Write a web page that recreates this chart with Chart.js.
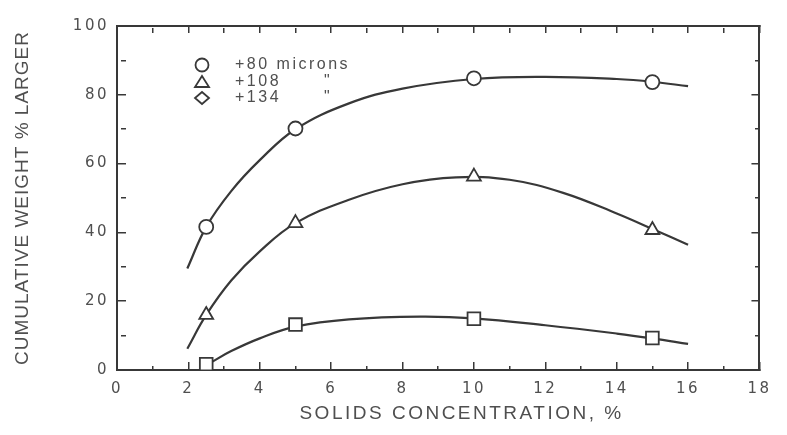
<!DOCTYPE html>
<html>
<head>
<meta charset="utf-8">
<script src="https://cdn.jsdelivr.net/npm/chart.js@4.4.1/dist/chart.umd.min.js"></script>
<style>
  html, body { margin: 0; padding: 0; background: #fff; }
</style>
</head>
<body>
<canvas id="chart" width="787" height="435"></canvas>
<script>
// plotted points (solids concentration, %)
const concentrations = [2.5, 5, 10, 15];
const plus80 = [41.6, 70.2, 84.8, 83.7];
const plus108 = [16.0, 42.7, 56.2, 40.7];
const plus134 = [1.7, 13.2, 14.9, 9.3];

// the smooth hand-drawn curves
const curve80X = [1.97, 2.5, 3.2, 4, 5, 6.5, 8, 10, 12, 14, 15, 16];
const curve80Y = [29.5, 41.6, 52, 61, 70, 77.5, 81.8, 84.6, 85.2, 84.6, 83.8, 82.5];
const curve108X = [1.97, 2.5, 3.2, 4, 5, 6.5, 8, 9.5, 11, 12.5, 14, 15, 16];
const curve108Y = [6.2, 16, 26, 34.5, 42.7, 49.5, 54, 56, 55.3, 51.5, 45.5, 41, 36.4];
const curve134X = [2.6, 3.2, 4, 5, 6.5, 8.5, 10, 12, 14, 15, 16];
const curve134Y = [2, 5.5, 9.2, 12.6, 14.7, 15.5, 15, 13, 10.6, 9.2, 7.6];

const legendLabels = ['+80 microns', '+108', '+134'];
const legendDitto = ['', '"', '"'];
const legendShapes = ['circle', 'triangle', 'diamond'];

// the printed title sits a little right of the axis centre
const xTitle = '      SOLIDS CONCENTRATION, %';
const yTitle = 'CUMULATIVE WEIGHT % LARGER';

const ink = '#383838';
const textGray = '#4f4f4f';

const pts = (xs, ys) => xs.map((x, i) => ({ x: x, y: ys[i] }));

function markers(ys, style, radius) {
  return {
    data: pts(concentrations, ys),
    showLine: false,
    pointStyle: style,
    pointRadius: radius,
    pointBorderWidth: 1.8,
    pointBorderColor: ink,
    pointBackgroundColor: '#fff',
    order: 0
  };
}

function curve(xs, ys) {
  return {
    data: pts(xs, ys),
    showLine: true,
    pointRadius: 0,
    borderColor: ink,
    borderWidth: 2.2,
    tension: 0.4,
    order: 1
  };
}

// short ticks on the minor steps
const minorDash = step => c => (c.tick && c.tick.value % step !== 0) ? [5, 60] : [];

function tickGrid(len, step) {
  return {
    drawOnChartArea: false,
    drawTicks: true,
    tickLength: -len,   // inward ticks
    color: ink,
    lineWidth: 1.5,
    tickBorderDash: minorDash(step)
  };
}

const border = { display: true, color: ink, width: 2 };

// spacing the letters a bit like the old lettering
function spacingFor(text) {
  if (text === yTitle) return '1px';
  return '2.5px';
}

const spacingPlugin = {
  id: 'spacing',
  beforeDraw(chart) {
    const ctx = chart.ctx;
    if (ctx._spaced) return;
    const fill = ctx.fillText;
    ctx.fillText = function (text, x, y, w) {
      this.letterSpacing = spacingFor(String(text));
      return w === undefined ? fill.call(this, text, x, y) : fill.call(this, text, x, y, w);
    };
    ctx._spaced = true;
  }
};

const legendPlugin = {
  id: 'innerLegend',
  afterDraw(chart) {
    const ctx = chart.ctx;
    const area = chart.chartArea;
    const mx = area.left + 85;
    const tx = area.left + 118;
    const dx = area.left + 207;
    const rows = [area.top + 39, area.top + 56, area.top + 72];
    ctx.save();
    ctx.strokeStyle = ink;
    ctx.lineWidth = 1.8;
    ctx.fillStyle = textGray;
    ctx.font = '16px "Liberation Sans", Arial, sans-serif';
    ctx.textBaseline = 'middle';
    legendLabels.forEach((label, i) => {
      const y = rows[i];
      ctx.beginPath();
      if (legendShapes[i] === 'circle') {
        ctx.arc(mx, y, 6.5, 0, Math.PI * 2);
      } else if (legendShapes[i] === 'triangle') {
        ctx.moveTo(mx, y - 6);
        ctx.lineTo(mx + 7, y + 5);
        ctx.lineTo(mx - 7, y + 5);
        ctx.closePath();
      } else {
        ctx.moveTo(mx, y - 6);
        ctx.lineTo(mx + 7, y);
        ctx.lineTo(mx, y + 6);
        ctx.lineTo(mx - 7, y);
        ctx.closePath();
      }
      ctx.stroke();
      ctx.textAlign = 'left';
      ctx.fillText(label, tx, y);
      if (legendDitto[i]) ctx.fillText(legendDitto[i], dx, y);
    });
    ctx.restore();
  }
};

new Chart(document.getElementById('chart'), {
  type: 'scatter',
  data: {
    datasets: [
      markers(plus80, 'circle', 7),
      markers(plus108, 'triangle', 8),
      markers(plus134, 'rect', 9),
      curve(curve80X, curve80Y),
      curve(curve108X, curve108Y),
      curve(curve134X, curve134Y)
    ]
  },
  options: {
    responsive: false,
    animation: false,
    devicePixelRatio: 1,
    layout: { padding: 0 },
    plugins: {
      legend: { display: false },
      tooltip: { enabled: false }
    },
    scales: {
      x: {
        type: 'linear',
        position: 'bottom',
        min: 0,
        max: 18,
        grid: tickGrid(8, 2),
        border: border,
        ticks: {
          stepSize: 1,
          autoSkip: false,
          maxRotation: 0,
          minRotation: 0,
          padding: 18,
          color: textGray,
          font: { family: 'DejaVu Sans', size: 15 },
          callback: v => (v % 2 === 0 ? v : '')
        },
        title: {
          display: true,
          text: xTitle,
          color: textGray,
          font: { family: 'Liberation Sans', size: 19 },
          padding: { top: 0, bottom: 10 }
        },
        afterFit: s => { s.height = 65; }
      },
      xTop: {
        type: 'linear',
        position: 'top',
        min: 0,
        max: 18,
        grid: tickGrid(7, 2),
        border: border,
        ticks: { stepSize: 1, autoSkip: false, display: false },
        afterFit: s => { s.height = 14; }
      },
      y: {
        type: 'linear',
        position: 'left',
        min: 0,
        max: 100,
        grid: tickGrid(9, 20),
        border: border,
        ticks: {
          stepSize: 10,
          autoSkip: false,
          padding: 17,
          color: textGray,
          font: { family: 'DejaVu Sans', size: 15 },
          callback: v => (v % 20 === 0 ? v : '')
        },
        title: {
          display: true,
          text: yTitle,
          color: textGray,
          font: { family: 'Liberation Sans', size: 19 },
          padding: { top: 11, bottom: 0 }
        },
        afterFit: s => { s.width = 117; }
      },
      yRight: {
        type: 'linear',
        position: 'right',
        min: 0,
        max: 100,
        grid: tickGrid(8, 20),
        border: border,
        ticks: { stepSize: 10, autoSkip: false, display: false },
        afterFit: s => { s.width = 14; }
      }
    }
  },
  plugins: [spacingPlugin, legendPlugin]
});
</script>
</body>
</html>
